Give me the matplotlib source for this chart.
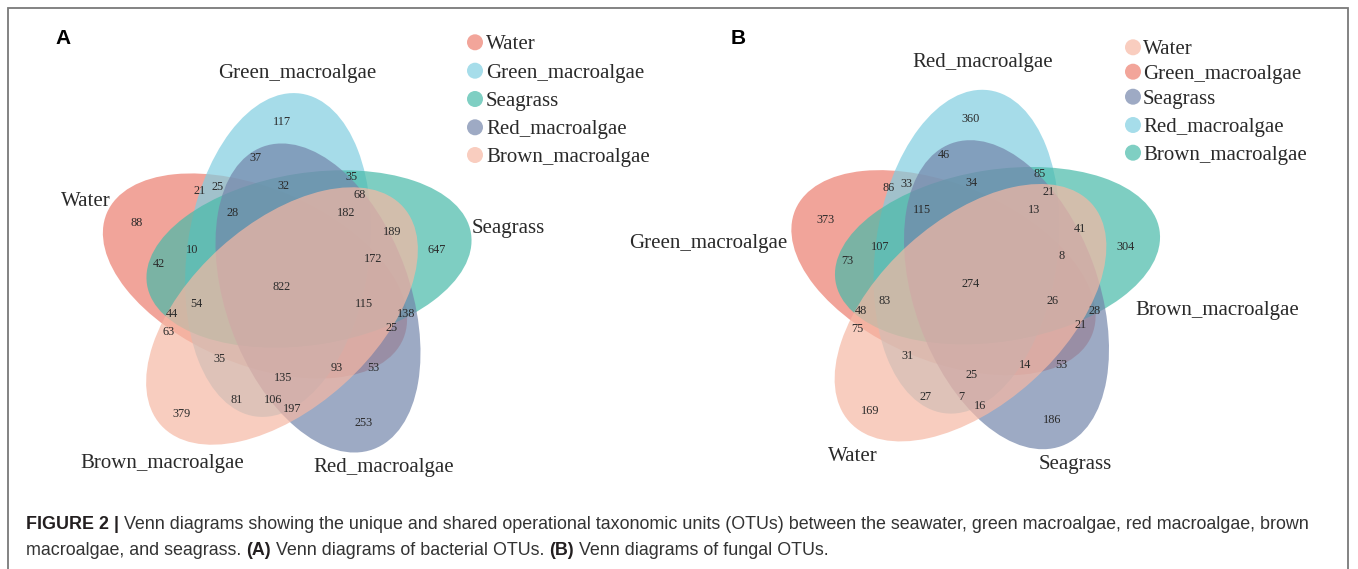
import matplotlib
matplotlib.use("Agg")
import matplotlib.pyplot as plt
from matplotlib.patches import Ellipse, Circle
from matplotlib.colors import to_rgb

# ---------------- data ----------------
legend_A = ["Water", "Green_macroalgae", "Seagrass", "Red_macroalgae", "Brown_macroalgae"]
legend_B = ["Water", "Green_macroalgae", "Seagrass", "Red_macroalgae", "Brown_macroalgae"]
# petal position of each legend entry: 0 top, 1 right, 2 lower-right, 3 lower-left, 4 upper-left
petal_A = [4, 0, 1, 2, 3]
petal_B = [3, 4, 2, 0, 1]

# region counts, in the order of the region layout slots below
counts_A = [117, 37, 21, 25, 32, 35, 68, 28, 182, 88, 10, 42, 822, 54, 44, 63,
            35, 93, 135, 81, 106, 197, 379, 253, 189, 647, 172, 115, 138, 25, 53]
counts_B = [360, 46, 86, 33, 34, 85, 21, 115, 13, 373, 107, 73, 274, 83, 48, 75,
            31, 14, 25, 27, 7, 16, 169, 186, 41, 304, 8, 26, 28, 21, 53]

caption_line1 = [("FIGURE 2 | ", "bold"),
                 ("Venn diagrams showing the unique and shared operational taxonomic units (OTUs) "
                  "between the seawater, green macroalgae, red macroalgae, brown", "normal")]
caption_line2 = [("macroalgae, and seagrass. ", "normal"), ("(A)", "bold"),
                 (" Venn diagrams of bacterial OTUs. ", "normal"), ("(B)", "bold"),
                 (" Venn diagrams of fungal OTUs.", "normal")]

# ---------------- layout / style ----------------
W, H = 1358, 569
# colour each petal shows on its own (over white), and the layer opacity
petal_tints = ["#A6DDEA", "#7FCFC3", "#9EAAC4", "#F9CDBF", "#F2A59A"]
ALPHA = 0.7


def base_colour(tint):
    return tuple(min(1.0, max(0.0, (c - (1 - ALPHA)) / ALPHA)) for c in to_rgb(tint))


petal_colors = [base_colour(t) for t in petal_tints]
draw_order = [4, 0, 1, 2, 3]
# ellipse geometry per petal (panel A pixel frame): centre x, centre y, semi-axes, axis angle
petal_geom = [(278, 255, 163, 91, 82),
              (309, 259, 164, 86, 9),
              (318, 298, 161, 92, 110),
              (282, 316, 163, 92, 42),
              (255, 276, 161, 88, 157)]
offset_B = (688.5, -3.3)

slot_xy = [(282, 121), (255, 157), (200, 190), (218, 186), (283, 185), (351, 176), (360, 194),
           (233, 212), (346, 212), (137, 222), (192, 249), (159, 263), (282, 286), (196, 303),
           (172, 313), (169, 331), (219, 358), (337, 367), (283, 377), (237, 399), (273, 399),
           (292, 408), (182, 413), (364, 422), (392, 231), (437, 249), (373, 258), (364, 303),
           (406, 313), (392, 327), (373, 367)]

cat_xy_A = [(85.5, 205.7), (297, 78), (508, 233.3), (384, 471.7), (162, 467.7)]
cat_xy_B = [(852.8, 461), (708, 247.7), (1075, 469.3), (983, 66.7), (1217, 315)]
leg_A = (475, 486, [42.3, 70.7, 99, 127.3, 155])
leg_B = (1133, 1143, [47.3, 71.7, 96.7, 125, 152.7])

SERIF = "Liberation Serif"
SANS = "Liberation Sans"
TXT = "#2a2a2a"

fig = plt.figure(figsize=(W / 100, H / 100), dpi=100)
ax = fig.add_axes([0, 0, 1, 1])
ax.set_xlim(0, W)
ax.set_ylim(H, 0)
ax.axis("off")


def draw_venn(counts, legend, petals, cat_xy, leg, dx, dy):
    for k in draw_order:
        cx, cy, a, b, ang = petal_geom[k]
        ax.add_patch(Ellipse((cx + dx, cy + dy), 2 * a, 2 * b, angle=-ang,
                             facecolor=petal_colors[k], alpha=ALPHA, edgecolor="none"))
    for (x, y), v in zip(slot_xy, counts):
        ax.text(x + dx, y + dy + 4, str(v), ha="center", va="baseline",
                fontsize=8.8, family=SERIF, color=TXT)
    for name, (x, y) in zip(legend, cat_xy):
        ax.text(x, y, name, ha="center", va="baseline", fontsize=15, family=SERIF, color=TXT)
    cxl, tx, ys = leg
    for name, p, y in zip(legend, petals, ys):
        ax.add_patch(Circle((cxl, y), 8, facecolor=petal_tints[p], edgecolor="none"))
        ax.text(tx, y + 7, name, ha="left", va="baseline", fontsize=15, family=SERIF, color=TXT)


draw_venn(counts_A, legend_A, petal_A, cat_xy_A, leg_A, 0, 0)
draw_venn(counts_B, legend_B, petal_B, cat_xy_B, leg_B, offset_B[0], offset_B[1])

ax.text(63.5, 43.5, "A", ha="center", va="baseline", fontsize=15, family=SANS,
        fontweight="bold", color="black")
ax.text(738, 44, "B", ha="center", va="baseline", fontsize=15, family=SANS,
        fontweight="bold", color="black")

# frame
ax.plot([8, 8, 1348, 1348], [H + 5, 8, 8, H + 5], color="#7a7a7a", lw=1.3,
        solid_joinstyle="miter", clip_on=False)

# caption
renderer = fig.canvas.get_renderer()


def draw_segments(x0, y, segs, size):
    x = x0
    for s, wgt in segs:
        t = ax.text(x, y, s, ha="left", va="baseline", fontsize=size, family=SANS,
                    fontweight=wgt, color="#231f20" if wgt == "bold" else "#333333")
        bb = t.get_window_extent(renderer=renderer)
        x += bb.width


draw_segments(26, 529, caption_line1, 12.85)
draw_segments(26, 555, caption_line2, 12.85)

fig.savefig("out.png", dpi=100)
